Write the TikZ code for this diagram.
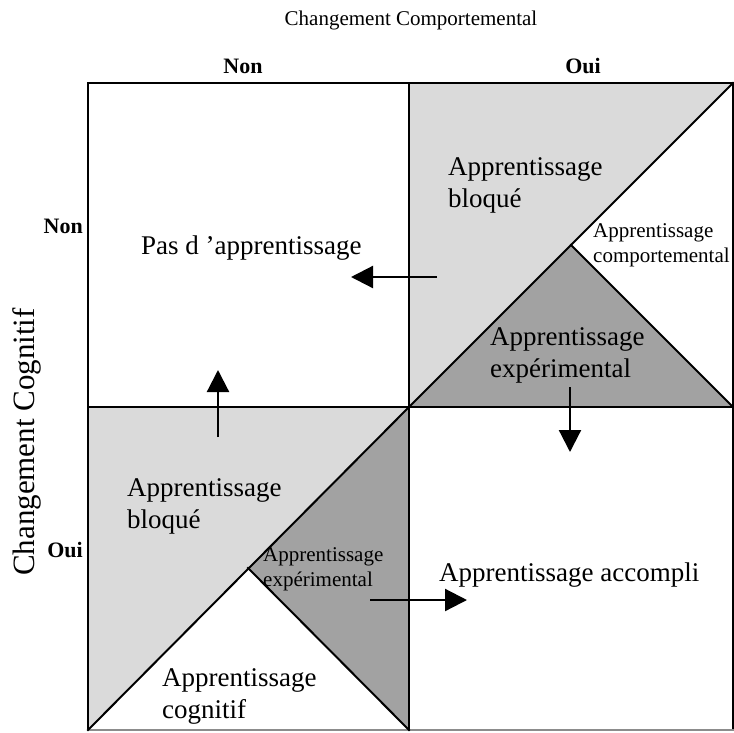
\documentclass[tikz,border=0pt]{standalone}
\usepackage{fontspec}
\setmainfont{Liberation Serif}
\usetikzlibrary{arrows.meta}
\definecolor{lightshade}{HTML}{DADADA}
\definecolor{darkshade}{HTML}{A2A2A2}
\begin{document}
\begin{tikzpicture}[x=1pt,y=-1pt,
  frame/.style={line width=2pt,line cap=rect},
  flow/.style={line width=2.2pt,-{Triangle[length=22pt,width=22pt]}},
  hdr/.style={font=\fontsize{21}{25}\selectfont,inner sep=0pt},
  yn/.style={font=\bfseries\fontsize{22}{26}\selectfont,inner sep=0pt},
  side/.style={font=\fontsize{31}{36}\selectfont,inner sep=0pt,rotate=90},
  big/.style={font=\fontsize{27}{32}\selectfont,align=left,inner sep=0pt,anchor=north west},
  small/.style={font=\fontsize{21}{25}\selectfont,align=left,inner sep=0pt,anchor=north west}]
\useasboundingbox (0,0) rectangle (734,732);
% grid points
\coordinate (TL) at (88,83);  \coordinate (TM) at (409,83);  \coordinate (TR) at (733,83);
\coordinate (ML) at (88,407); \coordinate (C)  at (409,407); \coordinate (MR) at (733,407);
\coordinate (BL) at (88,730); \coordinate (BM) at (409,730); \coordinate (BR) at (733,730);
\coordinate (A1) at (571,245);
\coordinate (A2) at (248,568);
% shading
\fill[lightshade] (TM) -- (TR) -- (C) -- cycle;
\fill[darkshade] (C) -- (A1) -- (MR) -- cycle;
\fill[lightshade] (ML) -- (C) -- (BL) -- cycle;
\fill[darkshade] (C) -- (BM) -- (A2) -- cycle;
% frame
\draw[frame] (BL) -- (TL) -- (TR) -- (BR);
\draw[frame,black!45] (BL) -- (BR);
\draw[frame] (TM) -- (BM);
\draw[frame] (ML) -- (MR);
\draw[frame] (C) -- (TR);
\draw[frame] (BL) -- (C);
\draw[frame] (A1) -- (MR);
\draw[frame] (A2) -- (BM);
% headers
\node[hdr] (hc) at (411,20) {Changement Comportemental};
\node[yn] (hn) at (243,66) {Non};
\node[yn] (ho) at (583,66) {Oui};
\node[side] (vc) at (27,442) {Changement Cognitif};
\node[yn,anchor=east] (vn) at (83,226) {Non};
\node[yn,anchor=east] (vo) at (83,550) {Oui};
% quadrant texts
\node[font=\fontsize{27}{32}\selectfont,inner sep=0pt,anchor=base west] (pas) at (141,254) {Pas d ’apprentissage};
\node[big] (tb) at (448,157) {Apprentissage\\bloqué};
\node[small] (tc) at (593,223) {Apprentissage\\comportemental};
\node[big] (te) at (490,327) {Apprentissage\\expérimental};
\node[big] (bb) at (127,478) {Apprentissage\\bloqué};
\node[small] (be) at (263,547) {Apprentissage\\expérimental};
\node[big] (bc) at (162,668) {Apprentissage\\cognitif};
\node[font=\fontsize{27}{32}\selectfont,inner sep=0pt,anchor=base west] (acc) at (439,581) {Apprentissage accompli};
% arrows
\coordinate (l1) at (437,277); \coordinate (l2) at (351,277);
\coordinate (u1) at (218,437); \coordinate (u2) at (218,370);
\coordinate (d1) at (570,387); \coordinate (d2) at (570,452);
\coordinate (r1) at (370,600); \coordinate (r2) at (467,600);
\draw[flow] (l1) -- (l2);
\draw[flow] (u1) -- (u2);
\draw[flow] (d1) -- (d2);
\draw[flow] (r1) -- (r2);
\end{tikzpicture}
\end{document}
